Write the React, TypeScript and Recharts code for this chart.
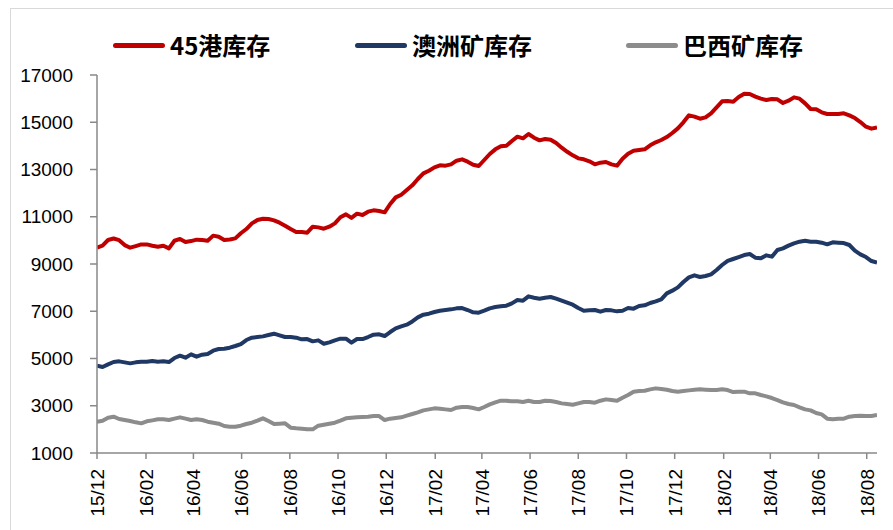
import { LineChart, Line, XAxis, YAxis } from "recharts";

// weekly iron ore port inventory (10k t), first week 2015-12-04
const startDate = Date.UTC(2015, 11, 4);
const WEEK = 7 * 86400000;

const port45 = [
  9690, 9775, 10015, 10080, 10010, 9800, 9690, 9760, 9830, 9830,
  9775, 9730, 9775, 9660, 9985, 10060, 9930, 9970, 10030, 10015,
  9985, 10200, 10155, 10015, 10040, 10085, 10300, 10480, 10720, 10862,
  10918, 10904, 10848, 10749, 10622, 10481, 10354, 10354, 10325, 10580,
  10550, 10495, 10580, 10720, 10980, 11100, 10950, 11130, 11073, 11215,
  11271, 11243, 11186, 11540, 11821, 11934, 12132, 12330, 12597, 12837,
  12950, 13091, 13176, 13162, 13218, 13373, 13430, 13331, 13204, 13148,
  13402, 13656, 13853, 13980, 14008, 14206, 14389, 14319, 14502, 14347,
  14234, 14291, 14262, 14121, 13924, 13750, 13599, 13472, 13430, 13345,
  13218, 13289, 13317, 13218, 13162, 13458, 13670, 13797, 13825, 13853,
  14022, 14149, 14248, 14375, 14545, 14742, 14996, 15292, 15236, 15151,
  15208, 15377, 15631, 15885, 15899, 15871, 16068, 16209, 16195, 16083,
  15998, 15942, 15984, 15970, 15814, 15913, 16054, 15998, 15800, 15560,
  15546, 15419, 15349, 15349, 15349, 15377, 15292, 15179, 15010, 14813,
  14728, 14784,
];

const australia = [
  4696, 4640, 4752, 4851, 4879, 4837, 4794, 4837, 4865, 4865,
  4893, 4865, 4879, 4851, 5020, 5119, 5034, 5175, 5077, 5161,
  5190, 5331, 5401, 5415, 5458, 5529, 5613, 5782, 5881, 5909,
  5937, 5994, 6050, 5980, 5909, 5909, 5881, 5810, 5824, 5726,
  5768, 5627, 5683, 5768, 5838, 5838, 5669, 5824, 5824, 5909,
  6008, 6022, 5951, 6121, 6276, 6361, 6431, 6570, 6742, 6855,
  6897, 6967, 7024, 7052, 7080, 7123, 7137, 7052, 6953, 6939,
  7024, 7123, 7179, 7207, 7235, 7334, 7475, 7447, 7631, 7574,
  7532, 7574, 7602, 7532, 7447, 7362, 7278, 7137, 7024, 7038,
  7052, 6982, 7052, 7038, 6996, 7024, 7137, 7109, 7221, 7250,
  7348, 7419, 7504, 7758, 7871, 8012, 8238, 8435, 8520, 8449,
  8492, 8562, 8745, 8957, 9130, 9211, 9296, 9380, 9423, 9267,
  9239, 9366, 9310, 9592, 9663, 9776, 9874, 9945, 9987, 9945,
  9945, 9902, 9832, 9917, 9902, 9888, 9804, 9564, 9408, 9296,
  9126, 9056,
];

const brazil = [
  2325, 2368, 2495, 2537, 2439, 2396, 2353, 2298, 2255, 2340,
  2382, 2425, 2425, 2396, 2453, 2509, 2453, 2396, 2425, 2396,
  2325, 2283, 2241, 2142, 2114, 2114, 2156, 2227, 2283, 2368,
  2467, 2353, 2227, 2241, 2255, 2072, 2043, 2029, 2001, 2001,
  2156, 2199, 2241, 2283, 2368, 2467, 2495, 2509, 2523, 2537,
  2565, 2565, 2396, 2453, 2481, 2509, 2580, 2650, 2720, 2805,
  2847, 2890, 2875, 2847, 2819, 2918, 2946, 2946, 2904, 2847,
  2946, 3059, 3143, 3214, 3214, 3186, 3186, 3158, 3214, 3158,
  3158, 3214, 3200, 3158, 3101, 3073, 3045, 3101, 3158, 3158,
  3130, 3214, 3270, 3242, 3214, 3341, 3454, 3595, 3623, 3637,
  3694, 3736, 3708, 3680, 3623, 3595, 3623, 3651, 3680, 3694,
  3680, 3666, 3666, 3694, 3666, 3581, 3595, 3595, 3525, 3525,
  3454, 3398, 3327, 3242, 3144, 3073, 3031, 2932, 2847, 2805,
  2692, 2636, 2453, 2425, 2453, 2453, 2537, 2565, 2580, 2565,
  2565, 2608,
];

const yTicks = [1000, 3000, 5000, 7000, 9000, 11000, 13000, 15000, 17000];

// x ticks every two months from the first week
const xTicks: number[] = [];
for (let m = 0; m <= 32; m += 2) {
  xTicks.push(Date.UTC(2015, 11 + m, 4));
}

const data = port45.map((v, i) => ({
  t: startDate + i * WEEK,
  port45: v,
  australia: australia[i],
  brazil: brazil[i],
}));

const legendItems = [
  { name: "45港库存", color: "#C00000", left: 113 },
  { name: "澳洲矿库存", color: "#1F3864", left: 355 },
  { name: "巴西矿库存", color: "#8C8C8C", left: 626 },
];

const fmtMonth = (t: number) => {
  const d = new Date(t);
  const yy = String(d.getUTCFullYear()).slice(2);
  const mm = String(d.getUTCMonth() + 1).padStart(2, "0");
  return `${yy}/${mm}`;
};

function XTick(props: any) {
  const { x, payload } = props;
  const y = 469;
  return (
    <text
      x={x}
      y={y}
      dy="0.36em"
      transform={`rotate(-90, ${x}, ${y})`}
      textAnchor="end"
      fill="#000"
      fontSize={19}
      fontFamily="'Liberation Sans', Arial, sans-serif"
    >
      {fmtMonth(payload.value)}
    </text>
  );
}

function TopLegend() {
  return (
    <div style={{ position: "absolute", left: 0, top: 30, width: 893, height: 30 }}>
      {legendItems.map((item) => (
        <div
          key={item.name}
          style={{
            position: "absolute",
            left: item.left,
            top: 0,
            display: "flex",
            alignItems: "center",
            height: 30,
          }}
        >
          <span
            style={{
              display: "inline-block",
              width: 52,
              height: 5,
              borderRadius: 3,
              background: item.color,
              marginRight: 5,
            }}
          />
          <span
            style={{
              fontFamily: "'Noto Sans CJK SC', sans-serif",
              fontWeight: 700,
              fontSize: 24,
              color: "#000",
              lineHeight: "30px",
            }}
          >
            {item.name}
          </span>
        </div>
      ))}
    </div>
  );
}

export default function App() {
  return (
    <div
      style={{
        position: "absolute",
        left: 0,
        top: 0,
        width: 893,
        height: 530,
        background: "#fff",
        overflow: "hidden",
      }}
    >
      <div
        style={{
          position: "absolute",
          left: 10,
          top: 8,
          width: 900,
          height: 540,
          borderLeft: "1px solid #d9d9d9",
          borderTop: "1px solid #d9d9d9",
        }}
      />
      <TopLegend />
      <div style={{ position: "absolute", left: 0, top: 0 }}>
        <LineChart
          width={893}
          height={530}
          data={data}
          margin={{ top: 75, right: 16, bottom: 0, left: 0 }}
        >
          <XAxis
            dataKey="t"
            type="number"
            scale="linear"
            domain={[startDate, startDate + 141 * WEEK]}
            ticks={xTicks}
            interval={0}
            height={77}
            tick={<XTick />}
            tickSize={6}
            axisLine={{ stroke: "#898989", strokeWidth: 1.5 }}
            tickLine={{ stroke: "#898989", strokeWidth: 1.5 }}
            allowDataOverflow
          />
          <YAxis
            type="number"
            domain={[1000, 17000]}
            ticks={yTicks}
            interval={0}
            width={97}
            tickSize={7}
            tickMargin={17}
            axisLine={{ stroke: "#898989", strokeWidth: 1.5 }}
            tickLine={{ stroke: "#898989", strokeWidth: 1.5 }}
            tick={{
              fill: "#000",
              fontSize: 19,
              fontFamily: "'Liberation Sans', Arial, sans-serif",
            }}
          />
          <Line
            type="linear"
            dataKey="port45"
            stroke="#C00000"
            strokeWidth={4}
            dot={false}
            strokeLinejoin="round"
            isAnimationActive={false}
          />
          <Line
            type="linear"
            dataKey="australia"
            stroke="#1F3864"
            strokeWidth={4}
            dot={false}
            strokeLinejoin="round"
            isAnimationActive={false}
          />
          <Line
            type="linear"
            dataKey="brazil"
            stroke="#8C8C8C"
            strokeWidth={4}
            dot={false}
            strokeLinejoin="round"
            isAnimationActive={false}
          />
        </LineChart>
      </div>
    </div>
  );
}
